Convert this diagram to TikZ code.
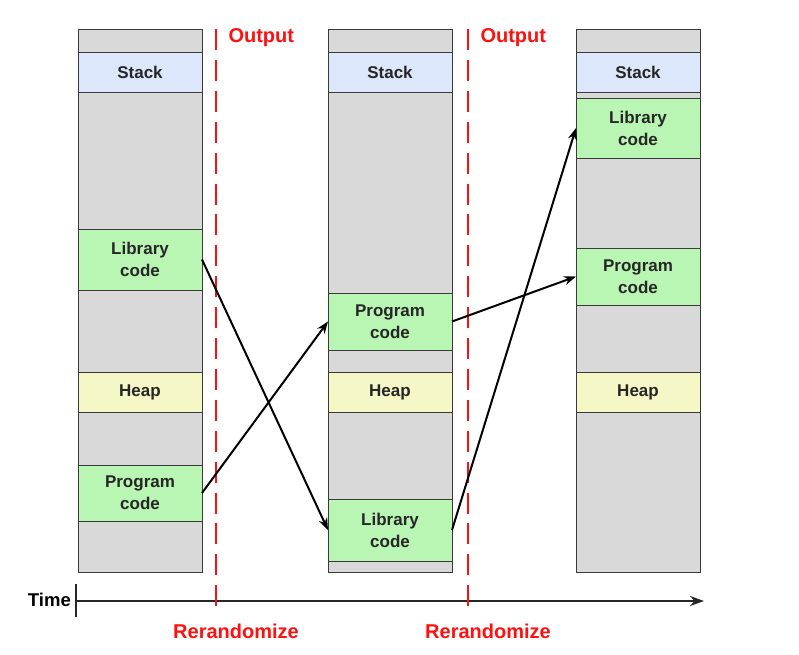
\documentclass[tikz,border=0pt]{standalone}
\usepackage{fontspec}
\setmainfont{Liberation Sans}
\usetikzlibrary{arrows.meta, positioning}

\definecolor{segGray}{HTML}{D9D9D9}
\definecolor{stackBlue}{HTML}{DDE7FB}
\definecolor{codeGreen}{HTML}{B9F5B3}
\definecolor{heapYellow}{HTML}{F5F7C6}
\definecolor{cutRed}{HTML}{FF1010}
\definecolor{edgeGray}{HTML}{3A3A3A}

\tikzset{
  seg/.style={rectangle, draw=edgeGray, line width=1pt, inner sep=0pt, outer sep=0pt,
    minimum width=124pt, align=center, text=black!85,
    font=\fontsize{17}{22}\selectfont\bfseries},
  freebox/.style={seg, fill=segGray},
  stackbox/.style={seg, fill=stackBlue, minimum height=40pt},
  codebox/.style={seg, fill=codeGreen},
  heapbox/.style={seg, fill=heapYellow, minimum height=40pt},
  cutline/.style={draw=cutRed, line width=2.5pt, dash pattern=on 21pt off 9.9pt},
  cutlabel/.style={text=cutRed, font=\fontsize{20}{24}\selectfont\bfseries},
  move/.style={draw=black, line width=2pt, -{Stealth[length=12pt, width=9pt]}},
}

\begin{document}
\begin{tikzpicture}[x=1pt, y=-1pt]
  \useasboundingbox (0,0) rectangle (799,654);

  % first layout
  \node (top1) [freebox, minimum height=23pt, anchor=north west] at (78,29) {};
  \node (stack1) [stackbox, below=0pt of top1] {Stack};
  \node (gapA1) [freebox, minimum height=137pt, below=0pt of stack1] {};
  \node (lib1) [codebox, minimum height=61pt, below=0pt of gapA1] {Library\\code};
  \node (gapB1) [freebox, minimum height=82pt, below=0pt of lib1] {};
  \node (heap1) [heapbox, below=0pt of gapB1] {Heap};
  \node (gapC1) [freebox, minimum height=53pt, below=0pt of heap1] {};
  \node (prog1) [codebox, minimum height=56pt, below=0pt of gapC1] {Program\\code};
  \node (gapD1) [freebox, minimum height=51pt, below=0pt of prog1] {};

  % second layout
  \node (top2) [freebox, minimum height=23pt, anchor=north west] at (328,29) {};
  \node (stack2) [stackbox, below=0pt of top2] {Stack};
  \node (gapA2) [freebox, minimum height=201pt, below=0pt of stack2] {};
  \node (prog2) [codebox, minimum height=57pt, below=0pt of gapA2] {Program\\code};
  \node (gapB2) [freebox, minimum height=22pt, below=0pt of prog2] {};
  \node (heap2) [heapbox, below=0pt of gapB2] {Heap};
  \node (gapC2) [freebox, minimum height=87pt, below=0pt of heap2] {};
  \node (lib2) [codebox, minimum height=62pt, below=0pt of gapC2] {Library\\code};
  \node (gapD2) [freebox, minimum height=11pt, below=0pt of lib2] {};

  % third layout
  \node (top3) [freebox, minimum height=23pt, anchor=north west] at (576,29) {};
  \node (stack3) [stackbox, below=0pt of top3] {Stack};
  \node (gapA3) [freebox, minimum height=6pt, below=0pt of stack3] {};
  \node (lib3) [codebox, minimum height=60pt, below=0pt of gapA3] {Library\\code};
  \node (gapB3) [freebox, minimum height=90pt, below=0pt of lib3] {};
  \node (prog3) [codebox, minimum height=57pt, below=0pt of gapB3] {Program\\code};
  \node (gapC3) [freebox, minimum height=67pt, below=0pt of prog3] {};
  \node (heap3) [heapbox, below=0pt of gapC3] {Heap};
  \node (gapD3) [freebox, minimum height=160pt, below=0pt of heap3] {};

  % time axis
  \coordinate (tstart) at (76,601);
  \coordinate (tend) at (704,601);
  \coordinate (ticktop) at (76,584);
  \coordinate (tickbot) at (76,617);
  \node (time) [anchor=east, inner sep=0pt, font=\fontsize{18.5}{22}\selectfont\bfseries] at (71,600) {Time};
  \draw[line width=2pt, black!85] (ticktop) -- (tickbot);
  \draw[line width=2.2pt, black!85, -{Stealth[length=14pt, width=10pt]}] (tstart) -- (tend);

  % rerandomization points
  \coordinate (cutAtop) at (216,29);
  \coordinate (cutAbot) at (216,606);
  \coordinate (cutBtop) at (468,29);
  \coordinate (cutBbot) at (468,606);
  \draw[cutline] (cutAtop) -- (cutAbot);
  \draw[cutline] (cutBtop) -- (cutBbot);
  \node (outA) [cutlabel, anchor=west] at (225,38) {Output};
  \node (outB) [cutlabel, anchor=west] at (477,38) {Output};
  \node (rerA) [cutlabel] at (236,631) {Rerandomize};
  \node (rerB) [cutlabel] at (488,631) {Rerandomize};

  % moves
  \path (lib1.east) edge[move] (lib2.west)
    (prog1.east) edge[move] (prog2.west)
    (prog2.east) edge[move] (prog3.west)
    (lib2.east) edge[move] (lib3.west);
\end{tikzpicture}
\end{document}
